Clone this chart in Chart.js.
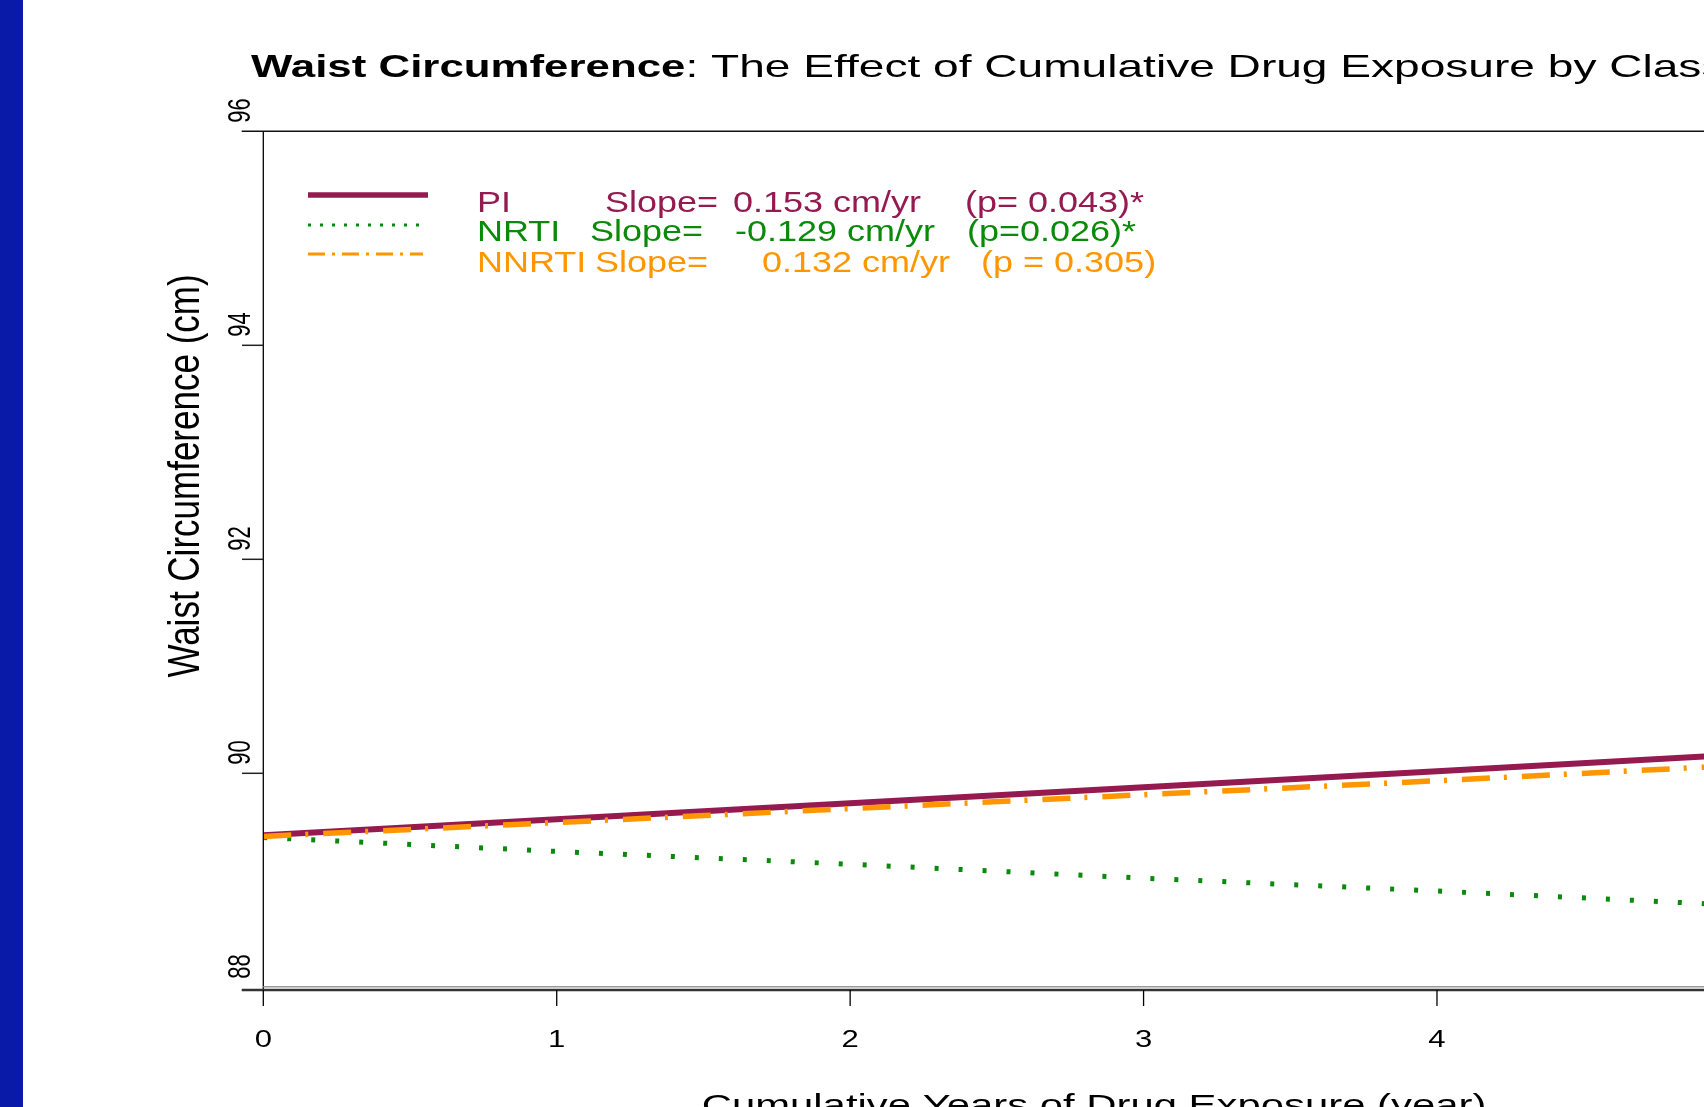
<!DOCTYPE html>
<html>
<head>
<meta charset="utf-8">
<title>Waist Circumference</title>
<script src="https://cdn.jsdelivr.net/npm/chart.js@4/dist/chart.umd.min.js"></script>
<style>
  html, body { margin: 0; padding: 0; overflow: hidden; background: #fff; }
  canvas { display: block; }
</style>
</head>
<body>
<canvas id="waistChart" width="1704" height="1107"></canvas>
<script>
// values
var years = [0, 1, 2, 3, 4, 5];
var piWaist = [89.42, 89.57, 89.72, 89.87, 90.02, 90.17];
var nrtiWaist = [89.40, 89.27, 89.15, 89.02, 88.90, 88.77];
var nnrtiWaist = [89.41, 89.54, 89.67, 89.80, 89.93, 90.07];

var xTicks = [0, 1, 2, 3, 4];
var yTicks = [88, 90, 92, 94, 96];

var legendRows = [
  { name: 'PI', slope: 'Slope=', value: '0.153 cm/yr', p: '(p= 0.043)*', color: '#941a50', xs: [477, 605, 733, 965], base: 212 },
  { name: 'NRTI', slope: 'Slope=', value: '-0.129 cm/yr', p: '(p=0.026)*', color: '#0a8a0a', xs: [477, 590, 735, 967], base: 241 },
  { name: 'NNRTI', slope: 'Slope=', value: '0.132 cm/yr', p: '(p = 0.305)', color: '#ff9600', xs: [477, 595, 762, 981], base: 272 }
];

var FONT = '"Liberation Sans", Arial, sans-serif';

function pts(vals) {
  var out = [];
  for (var i in years) {
    out.push({ x: years[i], y: vals[i] });
  }
  return out;
}

// text with a horizontal stretch, like the original slide
function stext(ctx, str, x, y, size, bold, color, sx, align) {
  ctx.save();
  ctx.translate(x, y);
  ctx.scale(sx, 1);
  ctx.font = (bold ? 'bold ' : '') + size + 'px ' + FONT;
  ctx.fillStyle = color;
  ctx.textAlign = align || 'left';
  ctx.textBaseline = 'alphabetic';
  ctx.fillText(str, 0, 0);
  var w = ctx.measureText(str).width * sx;
  ctx.restore();
  return w;
}

function line(ctx, x1, y1, x2, y2, w, color, dash) {
  ctx.save();
  ctx.beginPath();
  ctx.lineWidth = w;
  ctx.strokeStyle = color;
  ctx.setLineDash(dash || []);
  ctx.moveTo(x1, y1);
  ctx.lineTo(x2, y2);
  ctx.stroke();
  ctx.restore();
}

var decor = {
  id: 'decor',
  afterDraw: function(chart) {
    var ctx = chart.ctx;
    var xs = chart.scales.x;
    var ys = chart.scales.y;
    var left = xs.getPixelForValue(0);
    var top = ys.getPixelForValue(96);
    var bottom = ys.getPixelForValue(88);

    // blue band on the left
    ctx.fillStyle = '#0a1aa8';
    ctx.fillRect(0, 0, 23, 1107);

    // frame
    line(ctx, left, top, left, bottom + 3, 1.3, '#000');
    line(ctx, 241.7, top, 1704, top, 1.5, '#111');
    line(ctx, left, bottom - 0.6, 1704, bottom - 0.6, 1.5, '#999');
    line(ctx, 241.7, bottom + 2.7, 1704, bottom + 2.7, 2.5, '#333');

    // x ticks and labels
    xTicks.forEach(function(v) {
      var px = xs.getPixelForValue(v);
      line(ctx, px, bottom + 2.7, px, 1006, 1.3, '#000');
      stext(ctx, String(v), px, 1047, 23, false, '#000', 1.35, 'center');
    });

    // y ticks and rotated labels
    yTicks.forEach(function(v) {
      var py = ys.getPixelForValue(v);
      if (v !== 88 && v !== 96) line(ctx, 242, py, left, py, 1.5, '#222');
      ctx.save();
      ctx.translate(250, py - 8.5);
      ctx.scale(1.4, 1);
      ctx.rotate(-Math.PI / 2);
      ctx.font = '22px ' + FONT;
      ctx.fillStyle = '#000';
      ctx.textAlign = 'left';
      ctx.textBaseline = 'alphabetic';
      ctx.fillText(String(v), 0, 0);
      ctx.restore();
    });

    // axis titles
    ctx.save();
    ctx.translate(199, 476);
    ctx.scale(1.25, 1);
    ctx.rotate(-Math.PI / 2);
    ctx.font = '35px ' + FONT;
    ctx.fillStyle = '#000';
    ctx.textAlign = 'center';
    ctx.textBaseline = 'alphabetic';
    ctx.fillText('Waist Circumference (cm)', 0, 0);
    ctx.restore();

    stext(ctx, 'Cumulative Years of Drug Exposure (year)', 1094, 1115, 30, false, '#000', 1.395, 'center');

    // title: bold part then normal part
    var w = stext(ctx, 'Waist Circumference', 251, 77, 32, true, '#000', 1.37);
    stext(ctx, ': The Effect of Cumulative Drug Exposure by Class', 251 + w, 77, 32, false, '#000', 1.44);

    // legend
    line(ctx, 308, 195, 428, 195, 5.5, '#941a50');
    line(ctx, 308, 225, 420, 225, 3, '#0a8a0a', [3, 9]);
    line(ctx, 308, 254, 423, 254, 3, '#ff9600', [17, 7, 3, 7]);
    legendRows.forEach(function(r) {
      var parts = [r.name, r.slope, r.value, r.p];
      parts.forEach(function(s, i) {
        stext(ctx, s, r.xs[i], r.base, 30, false, r.color, 1.2);
      });
    });
  }
};

var chartdata = {
  datasets: [
    {
      label: 'PI',
      data: pts(piWaist),
      borderColor: '#941a50',
      borderWidth: 6,
      order: 1
    },
    {
      label: 'NRTI',
      data: pts(nrtiWaist),
      borderColor: '#0a8a0a',
      borderWidth: 5,
      borderDash: [4, 20],
      order: 2
    },
    {
      label: 'NNRTI',
      data: pts(nnrtiWaist),
      borderColor: '#ff9600',
      borderWidth: 5.5,
      borderDash: [28, 14, 3, 15],
      order: 0
    }
  ]
};

var ctx = document.getElementById('waistChart');

var waistChart = new Chart(ctx, {
  type: 'line',
  data: chartdata,
  options: {
    responsive: false,
    animation: false,
    devicePixelRatio: 1,
    layout: { padding: { left: 0, top: 131.3, right: 0, bottom: 0 } },
    elements: {
      point: { radius: 0 },
      line: { tension: 0, borderCapStyle: 'butt', fill: false }
    },
    plugins: {
      legend: { display: false },
      title: { display: false },
      tooltip: { enabled: false }
    },
    scales: {
      x: {
        type: 'linear',
        min: 0,
        max: 4.91,
        grid: { display: false },
        border: { display: false },
        ticks: { display: false },
        afterFit: function(scale) { scale.height = 1107 - 987.3; }
      },
      y: {
        min: 88,
        max: 96,
        grid: { display: false },
        border: { display: false },
        ticks: { display: false },
        afterFit: function(scale) { scale.width = 263.3; }
      }
    }
  },
  plugins: [decor]
});
</script>
</body>
</html>
